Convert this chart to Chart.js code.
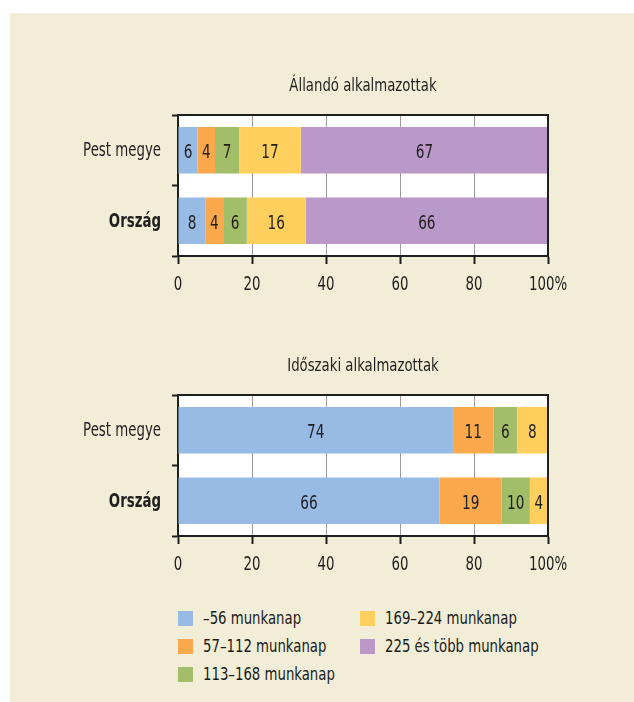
<!DOCTYPE html>
<html>
<head>
<meta charset="utf-8">
<script src="https://cdn.jsdelivr.net/npm/chart.js@4.4.1/dist/chart.umd.min.js"></script>
<style>
  html, body { margin: 0; padding: 0; background: #ffffff; }
  body { width: 634px; height: 702px; position: relative; overflow: hidden; }
  #panel { position: absolute; left: 10px; top: 13px; width: 624px; height: 689px; background: #F2EDD6; }
  .cv { position: absolute; left: 10px; width: 624px; height: 240px; }
  #c1 { top: 60px; }
  #c2 { top: 340px; }
  #legend { position: absolute; left: 178px; top: 611px; width: 420px;
    font-family: "DejaVu Sans Condensed", "DejaVu Sans", sans-serif; font-size: 18px; color: #1a1a1a; }
  .item { position: absolute; height: 16px; line-height: 16px; white-space: nowrap; }
  .sw { position: absolute; left: 0; top: 0; width: 15px; height: 15px; }
  .tx { position: absolute; left: 25px; top: -1px; transform: scaleX(0.82); transform-origin: 0 50%; }
</style>
</head>
<body>
<div id="panel"></div>
<canvas id="c1" class="cv" width="624" height="240"></canvas>
<canvas id="c2" class="cv" width="624" height="240"></canvas>
<div id="legend"></div>
<script>
// ---- data ----
const categories = ["Pest megye", "Ország"];
const seriesNames = ["–56 munkanap", "57–112 munkanap", "113–168 munkanap", "169–224 munkanap", "225 és több munkanap"];
const seriesColors = ["#97BBE5", "#F9A84B", "#A3BE68", "#FFCF5E", "#BA98C8"];

const title1 = "Állandó alkalmazottak";
// bar lengths, per series: [Pest megye, Ország]
const perm56 = [5.3, 7.5];
const perm112 = [4.7, 4.7];
const perm168 = [6.5, 6.4];
const perm224 = [16.7, 15.9];
const perm225 = [66.8, 65.5];
// printed labels
const permLbl56 = ["6", "8"];
const permLbl112 = ["4", "4"];
const permLbl168 = ["7", "6"];
const permLbl224 = ["17", "16"];
const permLbl225 = ["67", "66"];

const title2 = "Időszaki alkalmazottak";
const temp56 = [74.3, 70.7];
const temp112 = [11.0, 16.8];
const temp168 = [6.3, 7.6];
const temp224 = [8.4, 4.9];
const tempLbl56 = ["74", "66"];
const tempLbl112 = ["11", "19"];
const tempLbl168 = ["6", "10"];
const tempLbl224 = ["8", "4"];

const xTicks = [0, 20, 40, 60, 80, 100];
const xTickLabels = ["0", "20", "40", "60", "80", "100%"];

const FONT = '"DejaVu Sans Condensed", "DejaVu Sans", sans-serif';
const DARK = "#1f1f1f";
const CLEAR = "rgba(0,0,0,0)";

function narrowText(ctx, text, x, y, align, font, sx) {
  ctx.save();
  ctx.font = font;
  ctx.textAlign = align;
  ctx.textBaseline = "alphabetic";
  ctx.translate(x, y);
  ctx.scale(sx, 1);
  ctx.fillText(text, 0, 0);
  ctx.restore();
}

const framePlugin = {
  id: "frame",
  beforeDraw(chart) {
    const { ctx, chartArea: a } = chart;
    ctx.save();
    ctx.fillStyle = "#ffffff";
    ctx.fillRect(a.left, a.top, a.right - a.left, a.bottom - a.top);
    ctx.restore();
  },
  afterDraw(chart, args, opts) {
    const { ctx, chartArea: a } = chart;
    ctx.save();
    ctx.strokeStyle = DARK;
    ctx.lineWidth = 2;
    ctx.beginPath();
    ctx.moveTo(a.left, a.top);
    ctx.lineTo(a.right, a.top);
    ctx.lineTo(a.right, a.bottom);
    ctx.stroke();
    ctx.fillStyle = DARK;
    // title
    narrowText(ctx, opts.text, (a.left + a.right) / 2, a.top - 24, "center", "18px " + FONT, 0.82);
    // y labels
    const ys = chart.scales.y;
    categories.forEach((c, i) => {
      const meta = chart.getDatasetMeta(0);
      const yc = meta.data[i].y;
      narrowText(ctx, c, a.left - 17, yc + 6, "right",
        (i === 1 ? "bold " : "") + "19px " + FONT, 0.78);
    });
    // x labels
    const xs = chart.scales.x;
    xTicks.forEach((v, i) => {
      narrowText(ctx, xTickLabels[i], xs.getPixelForValue(v), a.bottom + 34, "center", "19px " + FONT, 0.78);
    });
    // value labels
    chart.data.datasets.forEach((ds, di) => {
      const meta = chart.getDatasetMeta(di);
      meta.data.forEach((bar, i) => {
        const p = bar.getProps(["x", "y", "base"], true);
        const cx = (p.x + p.base) / 2;
        narrowText(ctx, ds.valueLabels[i], cx, p.y + 8, "center", "20px " + FONT, 0.76);
      });
    });
    ctx.restore();
  }
};

function makeChart(id, titleText, seriesData, seriesLabels) {
  const datasets = seriesData.map((d, i) => ({
    label: seriesNames[i],
    data: d,
    valueLabels: seriesLabels[i],
    backgroundColor: seriesColors[i],
    borderWidth: 0,
    barPercentage: 0.66,
    categoryPercentage: 1.0
  }));
  return new Chart(document.getElementById(id), {
    type: "bar",
    data: { labels: categories, datasets },
    plugins: [framePlugin],
    options: {
      indexAxis: "y",
      responsive: false,
      animation: false,
      layout: { padding: { top: 55, right: 86, left: 0, bottom: 0 } },
      plugins: {
        legend: { display: false },
        tooltip: { enabled: false },
        frame: { text: titleText }
      },
      scales: {
        x: {
          stacked: true,
          min: 0, max: 100,
          afterBuildTicks(s) { s.ticks = xTicks.map(v => ({ value: v })); },
          afterFit(s) { s.height = 44; },
          grid: { color: "#9a9a9a", lineWidth: 1, tickColor: DARK, tickWidth: 2, tickLength: 8 },
          border: { color: DARK, width: 2 },
          ticks: { padding: 4, color: CLEAR, font: { family: FONT, size: 19 } }
        },
        y: {
          stacked: true,
          afterFit(s) { s.width = 168; },
          grid: { offset: true, drawOnChartArea: false, color: DARK, tickColor: DARK, tickWidth: 2, tickLength: 6 },
          border: { color: DARK, width: 2 },
          ticks: { padding: 11, color: CLEAR, font: { family: FONT, size: 19 } }
        }
      }
    }
  });
}

makeChart("c1", title1,
  [perm56, perm112, perm168, perm224, perm225],
  [permLbl56, permLbl112, permLbl168, permLbl224, permLbl225]);
makeChart("c2", title2,
  [temp56, temp112, temp168, temp224],
  [tempLbl56, tempLbl112, tempLbl168, tempLbl224]);

// legend (column-wise, 3 rows)
const leg = document.getElementById("legend");
seriesNames.forEach((name, i) => {
  const col = Math.floor(i / 3), row = i % 3;
  const it = document.createElement("div");
  it.className = "item";
  it.style.left = (col * 182) + "px";
  it.style.top = (row * 28) + "px";
  const sw = document.createElement("div");
  sw.className = "sw";
  sw.style.background = seriesColors[i];
  const tx = document.createElement("div");
  tx.className = "tx";
  tx.textContent = name;
  it.appendChild(sw); it.appendChild(tx);
  leg.appendChild(it);
});
</script>
</body>
</html>
